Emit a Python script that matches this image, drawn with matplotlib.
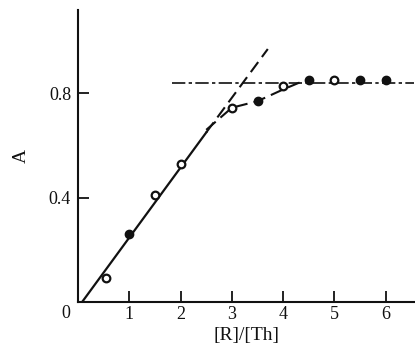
import matplotlib
matplotlib.use("Agg")
import matplotlib.pyplot as plt

# measured points
open_x = [0.55, 1.5, 2.0, 3.0, 4.0, 5.0]
open_y = [0.09, 0.41, 0.53, 0.745, 0.83, 0.85]
fill_x = [1.0, 3.5, 4.5, 5.5, 6.0]
fill_y = [0.26, 0.77, 0.85, 0.85, 0.85]

# straight fit and its extension
fit_x = [0.08, 2.5]
fit_y = [0.0, 0.65]
ext_x = [2.5, 3.7]
ext_y = [0.65, 0.97]

# bending curve
curve_x = [2.5, 3.0, 3.5, 4.0, 4.3, 4.5]
curve_y = [0.66, 0.745, 0.77, 0.815, 0.84, 0.85]

# plateau
plat_x = [1.83, 6.55]
plat_y = [0.84, 0.84]

xticks = [1, 2, 3, 4, 5, 6]
yticks = [0.4, 0.8]

plt.rcParams["font.family"] = ["Liberation Serif", "DejaVu Serif"]

fig = plt.figure(figsize=(4.15, 3.54), dpi=100)
ax = fig.add_axes([0.188, 0.147, 0.812, 0.825])

ink = "#111111"
ax.plot(fit_x, fit_y, color=ink, lw=1.6)
ax.plot(ext_x, ext_y, color=ink, lw=1.5, ls=(0, (6, 3)))
ax.plot(curve_x, curve_y, color=ink, lw=1.5, ls=(0, (6, 3)))
ax.plot(plat_x, plat_y, color=ink, lw=1.2, ls=(0, (8, 2, 2, 2)))

ax.plot(open_x, open_y, "o", ms=5.5, mfc="white", mec=ink, mew=1.6, ls="none")
ax.plot(fill_x, fill_y, "o", ms=6, color=ink, ls="none")

ax.set_xlim(0, 6.57)
ax.set_ylim(0, 1.12)
for s in ["top", "right"]:
    ax.spines[s].set_visible(False)
for s in ["left", "bottom"]:
    ax.spines[s].set_linewidth(1.5)
    ax.spines[s].set_color(ink)

ax.set_xticks(xticks)
ax.set_yticks(yticks)
ax.set_xticklabels([str(t) for t in xticks])
ax.set_yticklabels(["0.4", "0.8"])
ax.tick_params(axis="x", direction="in", length=8, width=1.3, labelsize=13, colors=ink, pad=3)
ax.tick_params(axis="y", direction="in", length=8, width=1.3, labelsize=13, colors=ink, pad=5)
ax.text(-0.15, -0.01, "0", ha="right", va="top", fontsize=13, color=ink, transform=ax.transData)

ax.set_xlabel("[R]/[Th]", fontsize=14, color=ink, labelpad=3)
ax.set_ylabel("A", fontsize=14, color=ink, labelpad=14)

fig.savefig("out.png", dpi=100)
